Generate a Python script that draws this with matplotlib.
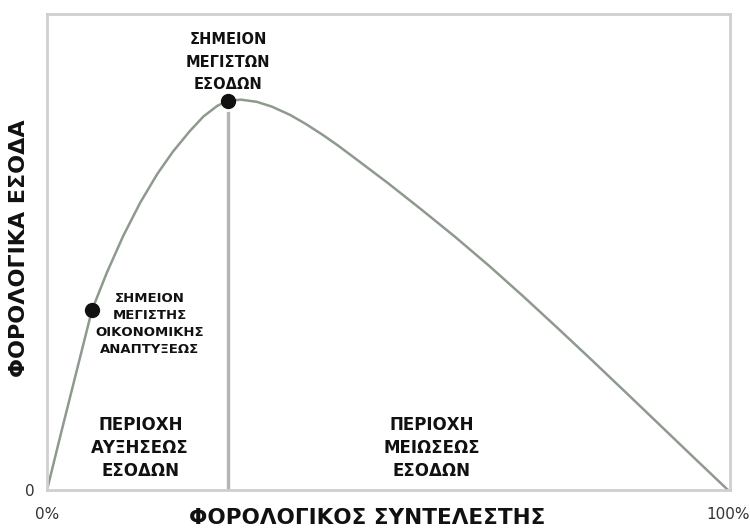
import matplotlib.pyplot as plt

# Laffer curve (tax rate %, revenue on a 0-100 scale)
tax_rate = [0, 2.0, 4.0, 6.6, 8.8, 11.2, 13.7, 16.2, 18.5, 21.0, 23.0, 25.0,
            26.6, 28.5, 30.8, 33.0, 35.7, 38.0, 40.5, 42.7, 44.9,
            50, 55, 60, 65, 70, 75, 80, 85, 90, 95, 100]
revenue = [0, 11.6, 23.0, 37.8, 45.7, 53.4, 60.4, 66.4, 71.1, 75.45, 78.5, 80.7,
           81.8, 82.0, 81.55, 80.55, 78.8, 76.9, 74.6, 72.4, 70.05,
           64.55, 58.9, 53.1, 47.0, 40.6, 34.0, 27.3, 20.5, 13.65, 6.8, 0]

max_revenue_rate = 26.6
max_revenue = 81.8
growth_rate = 6.6
growth_revenue = 37.8

x_ticks = [0, 100]
x_tick_labels = ['0%', '100%']
y_ticks = [0]
y_tick_labels = ['0']

fig = plt.figure(figsize=(7.5, 5.28), dpi=100)
ax = fig.add_axes([47 / 750, 1 - 490 / 528, 683 / 750, 476 / 528])

ax.plot(tax_rate, revenue, color='#8e9a8e', lw=1.8, solid_joinstyle='round', zorder=2)
ax.plot([max_revenue_rate, max_revenue_rate], [0, max_revenue - 2.5],
        color='#b4b4b4', lw=2.4, zorder=1)
ax.plot([max_revenue_rate, growth_rate], [max_revenue, growth_revenue],
        'o', color='#111111', ms=10, ls='none', zorder=3)

ax.set_xlim(0, 100.3)
ax.set_ylim(0, 100)

for s in ax.spines.values():
    s.set_color('#cfcfcf')
    s.set_linewidth(2)

ax.set_xticks(x_ticks)
ax.set_xticklabels(x_tick_labels)
ax.set_yticks(y_ticks)
ax.set_yticklabels(y_tick_labels)
ax.tick_params(length=0, labelsize=11, labelcolor='#333333')
ax.tick_params(axis='x', pad=12)
ax.tick_params(axis='y', pad=9)

ax.set_xlabel('ΦΟΡΟΛΟΓΙΚΟΣ ΣΥΝΤΕΛΕΣΤΗΣ', fontsize=15.5, fontweight='bold', color='#111111')
ax.xaxis.set_label_coords(0.469, -0.037)
ax.set_ylabel('ΦΟΡΟΛΟΓΙΚΑ ΕΣΟΔΑ', fontsize=16, fontweight='bold', color='#111111')
ax.yaxis.set_label_coords(-0.026, 0.508)

txt = dict(ha='center', va='center', fontweight='bold', color='#111111')
ax.text(26.6, 89.9, 'ΣΗΜΕΙΟΝ\nΜΕΓΙΣΤΩΝ\nΕΣΟΔΩΝ', fontsize=10.5, linespacing=1.65, **txt)
ax.text(15.1, 34.9, 'ΣΗΜΕΙΟΝ\nΜΕΓΙΣΤΗΣ\nΟΙΚΟΝΟΜΙΚΗΣ\nΑΝΑΠΤΥΞΕΩΣ', fontsize=9.5,
        linespacing=1.38, **txt)
ax.text(13.7, 8.8, 'ΠΕΡΙΟΧΗ\nΑΥΞΗΣΕΩΣ\nΕΣΟΔΩΝ', fontsize=12, linespacing=1.36, **txt)
ax.text(56.5, 8.8, 'ΠΕΡΙΟΧΗ\nΜΕΙΩΣΕΩΣ\nΕΣΟΔΩΝ', fontsize=12, linespacing=1.36, **txt)

fig.savefig('out.png', dpi=100)
